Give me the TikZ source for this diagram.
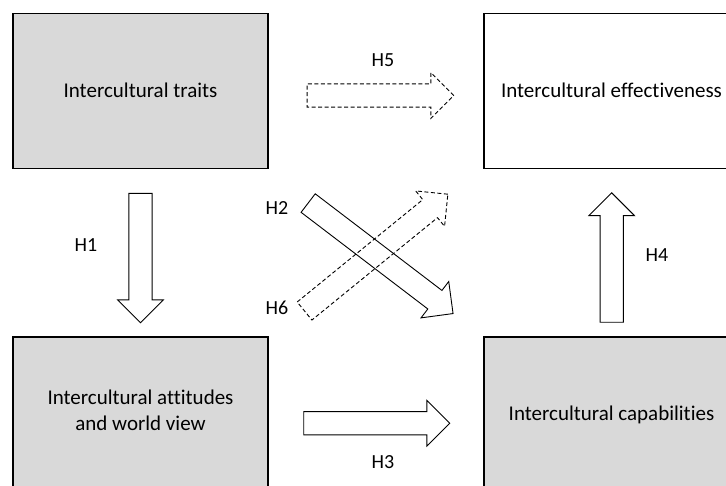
\documentclass[tikz,border=0pt]{standalone}
\usepackage{fontspec}
\setmainfont[Ligatures=NoCommon]{Carlito}
\usetikzlibrary{calc,shapes.arrows}
\definecolor{boxgray}{RGB}{217,217,217}
\tikzset{
  factor/.style={draw, line width=1.3pt, minimum width=255pt, minimum height=155pt,
    inner sep=0pt, align=center, font=\fontsize{21}{26}\selectfont},
  hyp arrow/.style={single arrow, draw, line width=0.9pt, inner xsep=0pt, inner ysep=11.2pt,
    single arrow head extend=11.2pt, single arrow tip angle=90},
  tentative/.style={dash pattern=on 4pt off 2.5pt},
  hyp label/.style={font=\fontsize{20}{24}\selectfont}
}
% block arrow from tail #2 to tip #3
\newcommand{\hyparrow}[3][]{%
  \path let \p1=($(#3)-(#2)$), \n1={atan2(\y1,\x1)}, \n2={veclen(\x1,\y1)} in
    node[hyp arrow, #1, rotate=\n1, minimum height=\n2, anchor=tail] at (#2) {};}
\begin{document}
\begin{tikzpicture}[x=1pt, y=1pt]
  \useasboundingbox (0,0) rectangle (726,486);
  \clip (0,0) rectangle (726,486);
  % factors
  \node[factor, fill=boxgray] (traits) at (140.5,395.3) {Intercultural traits};
  \node[factor, fill=boxgray] (attitudes) at (140.5,71.5) {};
  \node[align=center, font=\fontsize{21}{26}\selectfont] (attitudes text) at (140.5,76) {Intercultural attitudes\\and world view};
  \node[factor] (effect) at (611.5,395.3) {Intercultural effectiveness};
  \node[factor, fill=boxgray] (capab) at (611.5,71.5) {Intercultural capabilities};
  % arrow ends
  \coordinate (h1s) at (140.5,293);   \coordinate (h1e) at (140.5,163.7);
  \coordinate (h2s) at (307.8,283.2); \coordinate (h2e) at (452.7,172.7);
  \coordinate (h3s) at (303.3,62.7);  \coordinate (h3e) at (449.3,62.7);
  \coordinate (h4s) at (611.7,163.3); \coordinate (h4e) at (611.7,292.7);
  \coordinate (h5s) at (306.7,390.5); \coordinate (h5e) at (453.3,390.5);
  \coordinate (h6s) at (304.2,174.7); \coordinate (h6e) at (447.5,291.5);
  % hypotheses
  \hyparrow{h1s}{h1e}
  \hyparrow{h2s}{h2e}
  \hyparrow{h3s}{h3e}
  \hyparrow{h4s}{h4e}
  \hyparrow[tentative]{h5s}{h5e}
  \hyparrow[tentative]{h6s}{h6e}
  \node[hyp label] (h1) at (86,241) {H1};
  \node[hyp label] (h2) at (277,278) {H2};
  \node[hyp label] (h3) at (383,24) {H3};
  \node[hyp label] (h4) at (657,231) {H4};
  \node[hyp label] (h5) at (383,426) {H5};
  \node[hyp label] (h6) at (277,178) {H6};
\end{tikzpicture}
\end{document}
